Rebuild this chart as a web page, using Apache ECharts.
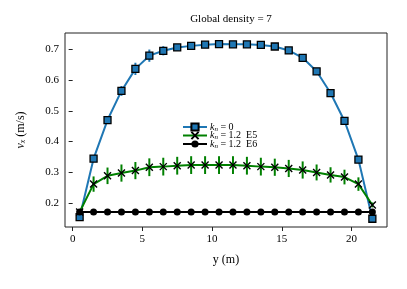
<!DOCTYPE html>
<html><head><meta charset="utf-8">
<script src="https://cdn.jsdelivr.net/npm/echarts@6/dist/echarts.min.js"></script>
<style>html,body{margin:0;padding:0;background:#fff}#c{width:407px;height:289px}</style>
</head><body><div id="c"></div>
<script>
const xs = [0.5,1.5,2.5,3.5,4.5,5.5,6.5,7.5,8.5,9.5,10.5,11.5,12.5,13.5,14.5,15.5,16.5,17.5,18.5,19.5,20.5,21.5];
const blue = [0.153,0.344,0.470,0.565,0.637,0.680,0.696,0.707,0.712,0.716,0.718,0.717,0.717,0.715,0.710,0.697,0.673,0.629,0.558,0.467,0.341,0.148];
const blueErr = [0,0.008,0.012,0.016,0.02,0.02,0.015,0.01,0.008,0.006,0.005,0.005,0.006,0.007,0.008,0.01,0.01,0.01,0.008,0.006,0.005,0];
const green = [0.170,0.261,0.288,0.297,0.305,0.316,0.318,0.321,0.323,0.323,0.323,0.323,0.321,0.318,0.316,0.312,0.307,0.299,0.291,0.284,0.261,0.193];
const greenErr = [0.005,0.025,0.027,0.028,0.028,0.029,0.029,0.029,0.029,0.029,0.029,0.029,0.029,0.029,0.028,0.028,0.028,0.026,0.025,0.024,0.022,0.008];
const black = [0.170,0.170,0.170,0.170,0.170,0.170,0.170,0.170,0.170,0.170,0.170,0.170,0.170,0.170,0.170,0.170,0.170,0.170,0.170,0.170,0.170,0.170];
const xTicks = [0,5,10,15,20];
const yTicks = [0.2,0.3,0.4,0.5,0.6,0.7];
const names = ['k0','k5','k6'];

const font = 'Liberation Serif';
function pairs(v){ return xs.map((x,i)=>[x,v[i]]); }
function errSeries(v, e, color){
  return {
    type:'custom', silent:true, z:1,
    data: xs.map((x,i)=>[x, v[i]-e[i], v[i]+e[i]]),
    renderItem:function(params, api){
      const p1 = api.coord([api.value(0), api.value(1)]);
      const p2 = api.coord([api.value(0), api.value(2)]);
      return {type:'line', shape:{x1:p1[0],y1:p1[1],x2:p2[0],y2:p2[1]}, style:{stroke:color, lineWidth:2}};
    }
  };
}
const chart = echarts.init(document.getElementById('c'), null, {renderer:'canvas'});
chart.setOption({
  animation:false,
  title:{text:'Global density = 7', left:226, top:9, textAlign:'center',
    textStyle:{fontFamily:font, fontSize:11, fontWeight:'normal', color:'#000'}},
  grid:{left:65, right:20, top:33, bottom:62, show:true, borderColor:'#222', borderWidth:1},
  legend:{
    data:names, orient:'vertical', left:177, top:117, itemGap:-2, itemWidth:24, itemHeight:9,
    textStyle:{fontFamily:font, fontSize:10, color:'#000', padding:[0,0,0,-2],
      rich:{i:{fontStyle:'italic', fontFamily:font, fontSize:10}, s:{fontStyle:'italic', fontFamily:font, fontSize:7, verticalAlign:'bottom', padding:[4,0,0,0]}, t:{fontFamily:font, fontSize:10}}},
    formatter:function(n){
      const v = {k0:'0', k5:'1.2  E5', k6:'1.2  E6'}[n];
      return '{i|k}{s|n}{t| = ' + v + '}';
    }
  },
  xAxis:{type:'value', min:-0.55, max:22.55, name:'y (m)', nameLocation:'middle', nameGap:27,
    nameTextStyle:{fontFamily:font, fontSize:12, color:'#000'},
    axisLine:{show:false}, splitLine:{show:false},
    axisTick:{show:true, inside:false, length:4, lineStyle:{color:'#222'}, customValues:xTicks},
    axisLabel:{fontFamily:font, fontSize:11, color:'#000', margin:7, customValues:xTicks}},
  yAxis:{type:'value', min:0.121, max:0.754, name:'{v|v}{s|x}{t| (m/s)}', nameLocation:'middle', nameGap:38,
    nameTextStyle:{fontFamily:font, fontSize:12, color:'#000',
      rich:{v:{fontFamily:font, fontSize:12, fontStyle:'italic'}, t:{fontFamily:font, fontSize:12},
        s:{fontFamily:font, fontSize:8, fontStyle:'italic', verticalAlign:'bottom', padding:[5,0,0,0]}}},
    axisLine:{show:false}, splitLine:{show:false},
    axisTick:{show:true, inside:false, length:4, lineStyle:{color:'#222'}, customValues:yTicks},
    axisLabel:{fontFamily:font, fontSize:11, color:'#000', margin:6, customValues:yTicks, formatter:v=>v.toFixed(1)}},
  series:[
    errSeries(blue, blueErr, '#1f77b4'),
    {name:'k0', type:'line', data:pairs(blue), z:2, symbol:'rect', symbolSize:7,
      lineStyle:{color:'#1f77b4', width:2}, itemStyle:{color:'#1f77b4', borderColor:'#000', borderWidth:1.3}},
    errSeries(green, greenErr, '#008000'),
    {name:'k5', type:'line', data:pairs(green), z:3, symbol:'path://M0,0L10,10M10,0L0,10', symbolSize:7,
      lineStyle:{color:'#008000', width:2}, itemStyle:{color:'#000', borderColor:'#000', borderWidth:1.4}},
    {name:'k6', type:'line', data:pairs(black), z:4, symbol:'circle', symbolSize:7,
      lineStyle:{color:'#000', width:2}, itemStyle:{color:'#000', borderColor:'#000', borderWidth:0}}
  ]
});
</script></body></html>
